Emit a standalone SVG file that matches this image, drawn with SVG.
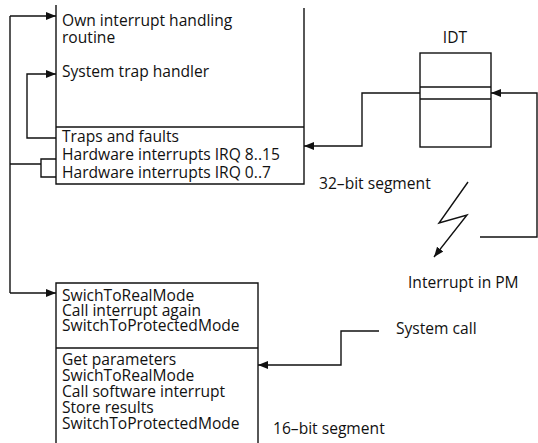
<svg xmlns="http://www.w3.org/2000/svg" width="538" height="443" viewBox="0 0 538 443">
<style>
.t{font-family:"Open Sans","Liberation Sans",sans-serif;font-size:15.6px;fill:#111}
.b{fill:none;stroke:#111;stroke-width:1.4}
.c{fill:none;stroke:#111;stroke-width:1.4}
</style>
<defs>
<marker id="ah" viewBox="0 0 10 10" refX="10" refY="5" markerWidth="10" markerHeight="10" markerUnits="userSpaceOnUse" orient="auto">
<path d="M0,1 L10,5 L0,9 Z" fill="#111"/>
</marker>
</defs>
<g id="seg32">
<path class="b" d="M56,5 V184 H304 V8"/>
<line class="b" x1="56" y1="127" x2="304" y2="127"/>
<text class="t" x="62" y="26">Own interrupt handling</text>
<text class="t" x="62" y="43">routine</text>
<text class="t" x="62" y="77">System trap handler</text>
<text class="t" x="62" y="142">Traps and faults</text>
<text class="t" x="62" y="160">Hardware interrupts IRQ 8..15</text>
<text class="t" x="62" y="178">Hardware interrupts IRQ 0..7</text>
</g>
<g id="label32"><text class="t" x="319" y="189">32–bit segment</text></g>
<g id="idt">
<rect class="b" x="420" y="53" width="71" height="94"/>
<line class="b" x1="420" y1="87" x2="491" y2="87"/>
<line class="b" x1="420" y1="99" x2="491" y2="99"/>
<text class="t" x="455" y="43" text-anchor="middle">IDT</text>
</g>
<g id="seg16">
<path class="b" d="M56,443 V283 H258 V443"/>
<line class="b" x1="56" y1="348" x2="258" y2="348"/>
<text class="t" x="62" y="301">SwichToRealMode</text>
<text class="t" x="62" y="316">Call interrupt again</text>
<text class="t" x="62" y="331">SwitchToProtectedMode</text>
<text class="t" x="62" y="365">Get parameters</text>
<text class="t" x="62" y="381">SwichToRealMode</text>
<text class="t" x="62" y="397">Call software interrupt</text>
<text class="t" x="62" y="413">Store results</text>
<text class="t" x="62" y="429">SwitchToProtectedMode</text>
</g>
<g id="label16"><text class="t" x="273" y="434">16–bit segment</text></g>
<g id="pm"><text class="t" x="408" y="288">Interrupt in PM</text></g>
<g id="syscall"><text class="t" x="396" y="334">System call</text></g>
<g id="connectors">
<path class="c" d="M10,16 V293"/>
<line class="c" x1="10" y1="16" x2="56" y2="16" marker-end="url(#ah)"/>
<line class="c" x1="10" y1="293" x2="56" y2="293" marker-end="url(#ah)"/>
<path class="c" d="M10,164 H41 M56,159 H41 V177 H56"/>
<path class="c" d="M56,138 H27 V74 H56" marker-end="url(#ah)"/>
<path class="c" d="M420,93 H362 V146 H304" marker-end="url(#ah)"/>
<path class="c" d="M480,237 H537 V93 H491" marker-end="url(#ah)"/>
<path class="c" d="M468,182 L439,223 L467,215 L434,257" marker-end="url(#ah)"/>
<path class="c" d="M379,331 H341 V365 H258" marker-end="url(#ah)"/>
</g>
</svg>
